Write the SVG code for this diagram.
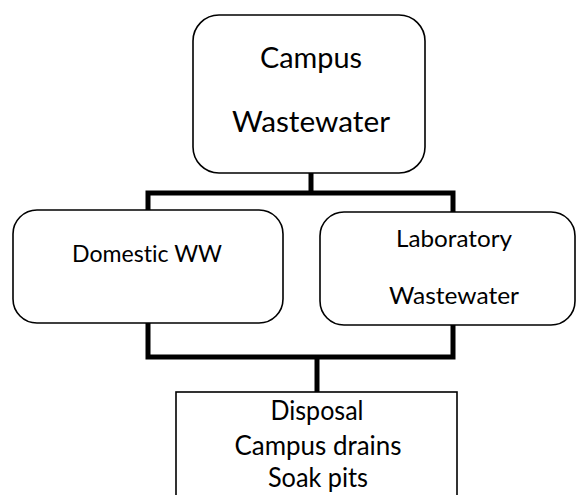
<svg xmlns="http://www.w3.org/2000/svg" width="576" height="495" viewBox="0 0 576 495">
<style>
.box{fill:#fff;stroke:#000;stroke-width:1.6}
.conn{fill:none;stroke:#000;stroke-width:5;stroke-linejoin:miter}
text{font-family:Lato,"Open Sans",sans-serif;fill:#000;text-anchor:middle;font-variant-ligatures:none}
.big{font-size:29px}
.mid{font-size:24px}
.bot{font-size:26px}
</style>
<rect width="576" height="495" fill="#fff"/>
<g id="connectors">
<path class="conn" d="M311,173 V193"/>
<path class="conn" d="M148,210 V193 H453 V212"/>
<path class="conn" d="M148,323 V357 H453 V325"/>
<path class="conn" d="M317,357 V392"/>
</g>
<g id="campus-wastewater">
<rect class="box" x="193" y="15" width="232" height="158" rx="26"/>
<text class="big" x="311" y="68" textLength="102" lengthAdjust="spacingAndGlyphs">Campus</text>
<text class="big" x="311" y="132" textLength="158" lengthAdjust="spacingAndGlyphs">Wastewater</text>
</g>
<g id="domestic-ww">
<rect class="box" x="13" y="210" width="270" height="113" rx="24"/>
<text class="mid" x="147" y="262" textLength="150" lengthAdjust="spacingAndGlyphs">Domestic WW</text>
</g>
<g id="laboratory-wastewater">
<rect class="box" x="320" y="212" width="255" height="113" rx="24"/>
<text class="mid" x="454" y="247" textLength="116" lengthAdjust="spacingAndGlyphs">Laboratory</text>
<text class="mid" x="454" y="304" textLength="130" lengthAdjust="spacingAndGlyphs">Wastewater</text>
</g>
<g id="disposal">
<rect class="box" x="176" y="392" width="281" height="120"/>
<text class="bot" x="317" y="420" textLength="93" lengthAdjust="spacingAndGlyphs">Disposal</text>
<text class="bot" x="318" y="455" textLength="167" lengthAdjust="spacingAndGlyphs">Campus drains</text>
<text class="bot" x="318" y="487" textLength="100" lengthAdjust="spacingAndGlyphs">Soak pits</text>
</g>
</svg>
